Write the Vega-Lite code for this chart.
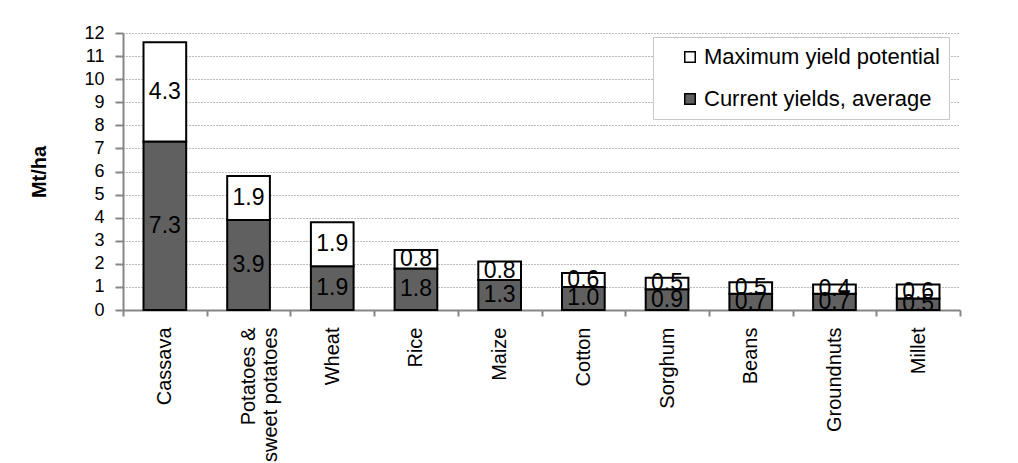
{
  "$schema": "https://vega.github.io/schema/vega-lite/v6.json",
  "width": 837,
  "height": 277,
  "padding": {"left": 123, "top": 33, "right": 58, "bottom": 153},
  "autosize": {"type": "none"},
  "background": "white",
  "config": {
    "font": "Liberation Sans",
    "view": {"stroke": null},
    "axis": {"labelFont": "Liberation Sans", "titleFont": "Liberation Sans", "labelColor": "black", "titleColor": "black"}
  },
  "data": {
    "values": [
      {"crop": "Cassava", "series": "Current yields, average", "rank": 1, "value": 7.3},
      {"crop": "Cassava", "series": "Maximum yield potential", "rank": 2, "value": 4.3},
      {"crop": "Potatoes & sweet potatoes", "series": "Current yields, average", "rank": 1, "value": 3.9},
      {"crop": "Potatoes & sweet potatoes", "series": "Maximum yield potential", "rank": 2, "value": 1.9},
      {"crop": "Wheat", "series": "Current yields, average", "rank": 1, "value": 1.9},
      {"crop": "Wheat", "series": "Maximum yield potential", "rank": 2, "value": 1.9},
      {"crop": "Rice", "series": "Current yields, average", "rank": 1, "value": 1.8},
      {"crop": "Rice", "series": "Maximum yield potential", "rank": 2, "value": 0.8},
      {"crop": "Maize", "series": "Current yields, average", "rank": 1, "value": 1.3},
      {"crop": "Maize", "series": "Maximum yield potential", "rank": 2, "value": 0.8},
      {"crop": "Cotton", "series": "Current yields, average", "rank": 1, "value": 1.0},
      {"crop": "Cotton", "series": "Maximum yield potential", "rank": 2, "value": 0.6},
      {"crop": "Sorghum", "series": "Current yields, average", "rank": 1, "value": 0.9},
      {"crop": "Sorghum", "series": "Maximum yield potential", "rank": 2, "value": 0.5},
      {"crop": "Beans", "series": "Current yields, average", "rank": 1, "value": 0.7},
      {"crop": "Beans", "series": "Maximum yield potential", "rank": 2, "value": 0.5},
      {"crop": "Groundnuts", "series": "Current yields, average", "rank": 1, "value": 0.7},
      {"crop": "Groundnuts", "series": "Maximum yield potential", "rank": 2, "value": 0.4},
      {"crop": "Millet", "series": "Current yields, average", "rank": 1, "value": 0.5},
      {"crop": "Millet", "series": "Maximum yield potential", "rank": 2, "value": 0.6}
    ]
  },
  "encoding": {
    "x": {
      "field": "crop",
      "type": "nominal",
      "sort": null,
      "scale": {"paddingInner": 0, "paddingOuter": 0},
      "axis": {
        "title": null,
        "labelAngle": -90,
        "labelFontSize": 20,
        "labelPadding": 11,
        "labelLineHeight": 22,
        "labelExpr": "datum.label == 'Potatoes & sweet potatoes' ? ['Potatoes &', 'sweet potatoes'] : datum.label",
        "tickBand": "extent",
        "tickSize": 6,
        "tickColor": "#868686",
        "tickWidth": 2,
        "domainColor": "#868686",
        "domainWidth": 2
      }
    },
    "y": {
      "field": "value",
      "type": "quantitative",
      "stack": "zero",
      "scale": {"domain": [0, 12], "nice": false},
      "axis": {
        "title": "Mt/ha",
        "titleFontSize": 20,
        "titleFontWeight": "bold",
        "titlePadding": 34,
        "values": [0, 1, 2, 3, 4, 5, 6, 7, 8, 9, 10, 11, 12],
        "labelFontSize": 18,
        "labelPadding": 11,
        "tickSize": 8,
        "tickColor": "#868686",
        "tickWidth": 2,
        "domainColor": "#868686",
        "domainWidth": 2,
        "grid": true,
        "gridColor": "#7a7a7a",
        "gridDash": [1, 2],
        "gridWidth": 1
      }
    },
    "order": {"field": "rank", "type": "quantitative"}
  },
  "layer": [
    {
      "mark": {"type": "bar", "width": {"band": 0.51}, "stroke": "black", "strokeWidth": 2},
      "encoding": {
        "color": {
          "field": "series",
          "type": "nominal",
          "scale": {
            "domain": ["Maximum yield potential", "Current yields, average"],
            "range": ["#ffffff", "#606060"]
          },
          "legend": {
            "title": null,
            "orient": "none",
            "legendX": 530,
            "legendY": 4,
            "fillColor": "white",
            "strokeColor": "#c8c8c8",
            "padding": 9,
            "symbolOffset": 17,
            "rowPadding": 20,
            "symbolType": "square",
            "symbolSize": 110,
            "symbolStrokeColor": "black",
            "symbolStrokeWidth": 1.5,
            "labelFontSize": 22,
            "labelOffset": 3,
            "labelLimit": 400,
            "labelColor": "black"
          }
        }
      }
    },
    {
      "mark": {"type": "text", "fontSize": 23, "color": "black", "baseline": "middle"},
      "encoding": {
        "y": {"field": "value", "type": "quantitative", "stack": "zero", "bandPosition": 0.5},
        "text": {"field": "value", "type": "quantitative", "format": ".1f"}
      }
    }
  ]
}
